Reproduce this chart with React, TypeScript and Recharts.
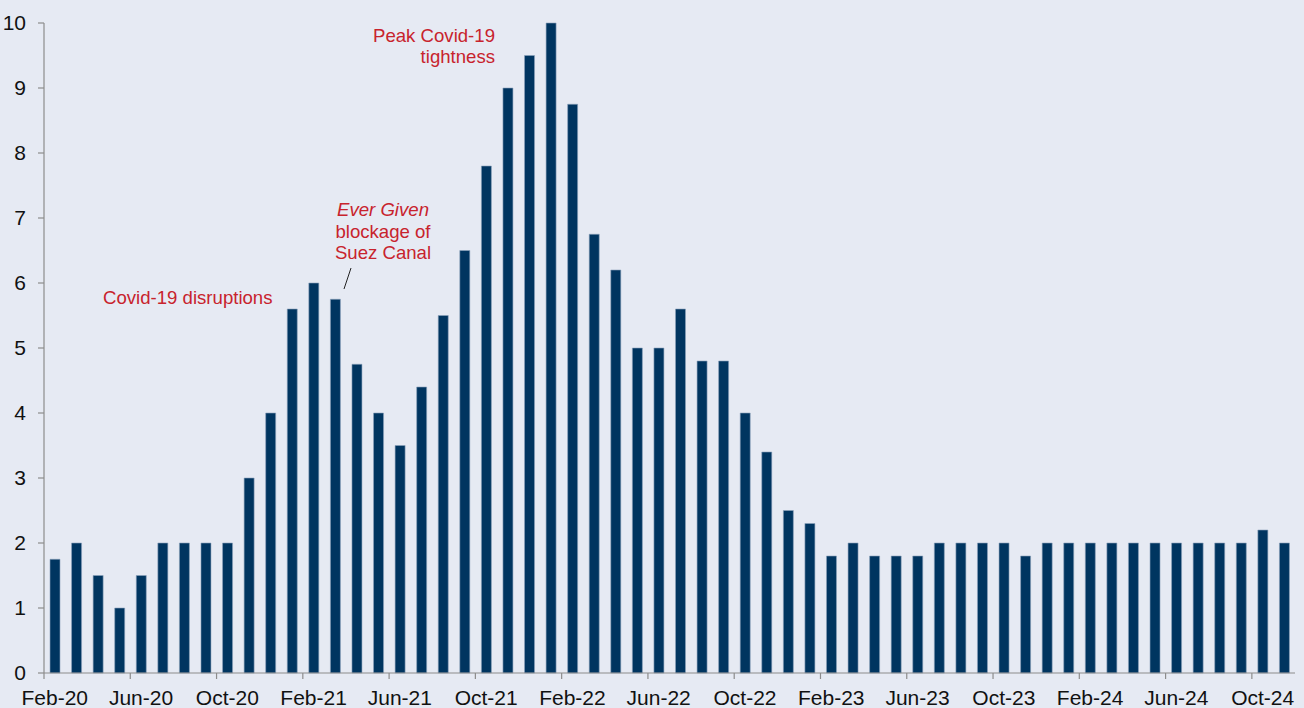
import React from 'react';
import { BarChart, Bar, XAxis, YAxis } from 'recharts';

// Monthly categories, Feb-20 through Nov-24
const months = [
  'Feb-20', 'Mar-20', 'Apr-20', 'May-20', 'Jun-20', 'Jul-20', 'Aug-20', 'Sep-20', 'Oct-20', 'Nov-20', 'Dec-20',
  'Jan-21', 'Feb-21', 'Mar-21', 'Apr-21', 'May-21', 'Jun-21', 'Jul-21', 'Aug-21', 'Sep-21', 'Oct-21', 'Nov-21', 'Dec-21',
  'Jan-22', 'Feb-22', 'Mar-22', 'Apr-22', 'May-22', 'Jun-22', 'Jul-22', 'Aug-22', 'Sep-22', 'Oct-22', 'Nov-22', 'Dec-22',
  'Jan-23', 'Feb-23', 'Mar-23', 'Apr-23', 'May-23', 'Jun-23', 'Jul-23', 'Aug-23', 'Sep-23', 'Oct-23', 'Nov-23', 'Dec-23',
  'Jan-24', 'Feb-24', 'Mar-24', 'Apr-24', 'May-24', 'Jun-24', 'Jul-24', 'Aug-24', 'Sep-24', 'Oct-24', 'Nov-24',
];

// Monthly series values
const values = [
  1.75, 2, 1.5, 1, 1.5, 2, 2, 2, 2, 3, 4,
  5.6, 6, 5.75, 4.75, 4, 3.5, 4.4, 5.5, 6.5, 7.8, 9, 9.5,
  10, 8.75, 6.75, 6.2, 5, 5, 5.6, 4.8, 4.8, 4, 3.4, 2.5,
  2.3, 1.8, 2, 1.8, 1.8, 1.8, 2, 2, 2, 2, 1.8, 2,
  2, 2, 2, 2, 2, 2, 2, 2, 2, 2.2, 2,
];

const yTicks = [0, 1, 2, 3, 4, 5, 6, 7, 8, 9, 10];

const data = months.map((month, i) => ({ month, value: values[i] }));

const WIDTH = 1304;
const HEIGHT = 708;
const Y_AXIS_WIDTH = 44;
const MARGIN = { top: 23, right: 9, bottom: 0, left: 0 };
const X_AXIS_HEIGHT = 35;
const BAND = (WIDTH - MARGIN.left - MARGIN.right - Y_AXIS_WIDTH) / months.length;

const BG = '#E6EAF3';
const NAVY = '#003560';
const AXIS = '#8C8C8C';
const RED = '#C8232D';
const FONT = '"Liberation Sans", Arial, sans-serif';

// Labels sit under the bar; tick marks sit on the band's left edge
function MonthTick(props: any) {
  const { x, y, payload } = props;
  const edge = x - BAND / 2;
  return (
    <g>
      <line x1={edge} y1={y} x2={edge} y2={y + 6} stroke={AXIS} strokeWidth={1.2} />
      <text x={x} y={y + 32} textAnchor="middle" fill="#111" fontSize={21} fontFamily={FONT}>
        {payload.value}
      </text>
    </g>
  );
}

function Annotations() {
  const common = { fill: RED, fontSize: 18.6, fontFamily: FONT };
  return (
    <svg
      width={WIDTH}
      height={HEIGHT}
      style={{ position: 'absolute', left: 0, top: 0, pointerEvents: 'none' }}
    >
      <text x={495} y={42} textAnchor="end" {...common}>Peak Covid-19</text>
      <text x={495} y={62.5} textAnchor="end" {...common}>tightness</text>

      <text x={383} y={216} textAnchor="middle" fontStyle="italic" {...common}>Ever Given</text>
      <text x={383} y={238} textAnchor="middle" {...common}>blockage of</text>
      <text x={383} y={259} textAnchor="middle" {...common}>Suez Canal</text>
      <line x1={351} y1={268} x2={344} y2={289} stroke="#222" strokeWidth={1} />

      <text x={103} y={304} textAnchor="start" {...common}>Covid-19 disruptions</text>
    </svg>
  );
}

export default function App() {
  return (
    <div
      style={{
        position: 'absolute',
        left: 0,
        top: 0,
        width: WIDTH,
        height: HEIGHT,
        background: BG,
        overflow: 'hidden',
      }}
    >
      <BarChart width={WIDTH} height={HEIGHT} data={data} margin={MARGIN}>
        <XAxis
          dataKey="month"
          interval={3}
          height={X_AXIS_HEIGHT}
          tickLine={false}
          tickSize={0}
          tickMargin={0}
          axisLine={{ stroke: AXIS, strokeWidth: 1.2 }}
          tick={<MonthTick />}
        />
        <YAxis
          width={Y_AXIS_WIDTH}
          domain={[0, 10]}
          ticks={yTicks}
          interval={0}
          tickSize={6}
          tickMargin={12}
          axisLine={{ stroke: AXIS, strokeWidth: 1.2 }}
          tickLine={{ stroke: AXIS, strokeWidth: 1.2 }}
          tick={{ fill: '#111', fontSize: 21, fontFamily: FONT }}
        />
        <Bar
          dataKey="value"
          fill={NAVY}
          stroke="#8DA2BC"
          strokeWidth={0.6}
          barSize={10}
          isAnimationActive={false}
        />
      </BarChart>
      <Annotations />
    </div>
  );
}
